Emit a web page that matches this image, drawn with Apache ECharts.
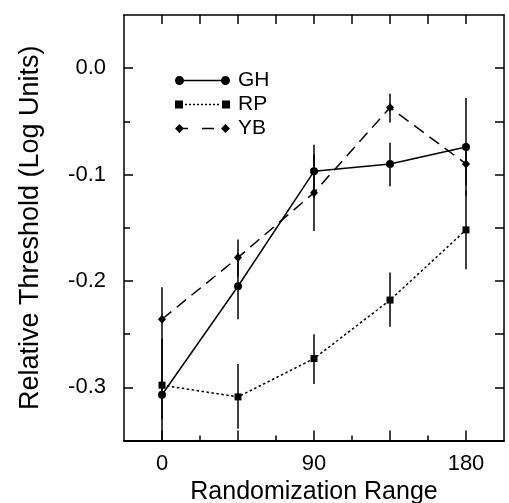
<!DOCTYPE html>
<html>
<head>
<meta charset="utf-8">
<script src="https://cdn.jsdelivr.net/npm/echarts@6/dist/echarts.min.js"></script>
<style>
    html, body { margin: 0; padding: 0; background: #fff; }
    #main { width: 509px; height: 503px; }
</style>
</head>
<body>
<div id="main"></div>
<script>
// 数据
var ranges = [0, 45, 90, 135, 180];
var ghMean = [-0.307, -0.205, -0.097, -0.090, -0.074];
var ghLow  = [-0.360, -0.236, -0.122, -0.111, -0.120];
var ghHigh = [-0.254, -0.174, -0.072, -0.070, -0.028];
var rpMean = [-0.298, -0.309, -0.273, -0.218, -0.152];
var rpLow  = [-0.330, -0.339, -0.297, -0.243, -0.189];
var rpHigh = [-0.266, -0.278, -0.250, -0.192, -0.115];
var ybMean = [-0.236, -0.178, -0.117, -0.037, -0.090];
var ybLow  = [-0.266, -0.196, -0.153, -0.051, -0.110];
var ybHigh = [-0.206, -0.161, -0.081, -0.024, -0.070];
var xLabelValues = [0, 90, 180];
var yLabelValues = [0, -0.1, -0.2, -0.3];

var font = 'Liberation Sans';
var chart = echarts.init(document.getElementById('main'));

function pairs(xs, ys) {
    var out = [];
    for (var i = 0; i < xs.length; i++) out.push([xs[i], ys[i]]);
    return out;
}
function bars(xs, lo, hi) {
    var out = [];
    for (var i = 0; i < xs.length; i++) out.push([xs[i], lo[i], hi[i]]);
    return out;
}

// legend icons (both end markers + line pattern)
function circ(cx, cy, r) {
    return 'M' + (cx - r) + ',' + cy + ' A' + r + ',' + r + ' 0 1,1 ' + (cx + r) + ',' + cy +
        ' A' + r + ',' + r + ' 0 1,1 ' + (cx - r) + ',' + cy + ' Z ';
}
function seg(x1, x2, cy, h) {
    return 'M' + x1 + ',' + (cy - h / 2) + ' L' + x2 + ',' + (cy - h / 2) + ' L' + x2 + ',' + (cy + h / 2) + ' L' + x1 + ',' + (cy + h / 2) + ' Z ';
}
function diam(cx, cy, w, h) {
    return 'M' + (cx - w / 2) + ',' + cy + ' L' + cx + ',' + (cy - h / 2) + ' L' + (cx + w / 2) + ',' + cy + ' L' + cx + ',' + (cy + h / 2) + ' Z ';
}
var iconGH = 'path://' + circ(4.5, 4.5, 4.5) + seg(4, 51, 4.5, 1.4) + circ(50.5, 4.5, 4.5);
var rpPath = seg(0, 8, 4.5, 8) + seg(47, 55, 4.5, 8);
for (var dx = 10; dx < 46; dx += 4) rpPath += seg(dx, dx + 2, 4.5, 1.4);
var iconRP = 'path://' + rpPath;
var iconYB = 'path://' + diam(4.5, 4.5, 9, 9) + seg(8, 13, 4.5, 1.4) + seg(27, 39, 4.5, 1.4) + seg(47, 51, 4.5, 1.4) + diam(50.5, 4.5, 9, 9);

function errRender(params, api) {
    var cs = params.coordSys;
    var p1 = api.coord([api.value(0), api.value(1)]);
    var p2 = api.coord([api.value(0), api.value(2)]);
    var yTop = cs.y, yBot = cs.y + cs.height;
    var y1 = Math.min(Math.max(p1[1], yTop), yBot);
    var y2 = Math.min(Math.max(p2[1], yTop), yBot);
    return {
        type: 'line',
        shape: { x1: p1[0], y1: y1, x2: p2[0], y2: y2 },
        style: { stroke: '#000', lineWidth: 1.5 }
    };
}

var axisLine = { show: true, onZero: false, lineStyle: { color: '#000', width: 1.5 } };
var noLine = { show: false, onZero: false };

var option = {
    animation: false,
    backgroundColor: '#fff',
    textStyle: { fontFamily: font, color: '#000' },
    grid: { left: 124, right: 5, top: 15, bottom: 62.5, containLabel: false, outerBoundsMode: 'none' },
    legend: {
        orient: 'vertical',
        left: 175,
        top: 70,
        padding: 0,
        itemWidth: 55,
        itemHeight: 9,
        itemGap: 3,
        selectedMode: false,
        textStyle: { fontFamily: font, fontSize: 21, color: '#000', padding: [0, 0, 0, 3] },
        data: [
            { name: 'GH', icon: iconGH },
            { name: 'RP', icon: iconRP },
            { name: 'YB', icon: iconYB }
        ]
    },
    xAxis: [
        {
            type: 'value', position: 'bottom',
            min: -22.5, max: 202.5, interval: 22.5,
            axisLine: { show: true, onZero: false, lineStyle: { color: '#000', width: 2 } },
            axisTick: { show: true, inside: true, length: 10, customValues: [0, 45, 90, 135, 180], lineStyle: { color: '#000', width: 1.5 } },
            axisLabel: { customValues: xLabelValues, fontSize: 22, margin: 12, color: '#000', fontFamily: font },
            splitLine: { show: false },
            name: 'Randomization Range',
            nameLocation: 'middle',
            nameGap: 34,
            nameTextStyle: { fontSize: 25, color: '#000', fontFamily: font }
        },
        {
            type: 'value', position: 'bottom',
            min: -22.5, max: 202.5, interval: 22.5,
            axisLine: noLine,
            axisTick: { show: true, inside: true, length: 5, customValues: [22.5, 67.5, 112.5, 157.5], lineStyle: { color: '#000', width: 1.5 } },
            axisLabel: { show: false },
            splitLine: { show: false }
        },
        {
            type: 'value', position: 'top',
            min: -22.5, max: 202.5, interval: 22.5,
            axisLine: axisLine,
            axisTick: { show: true, inside: true, length: 9, customValues: [0, 22.5, 45, 67.5, 90, 112.5, 135, 157.5, 180], lineStyle: { color: '#000', width: 1.5 } },
            axisLabel: { show: false },
            splitLine: { show: false }
        }
    ],
    yAxis: [
        {
            type: 'value', position: 'left',
            min: -0.35, max: 0.05, interval: 0.05,
            axisLine: axisLine,
            axisTick: { show: true, inside: true, length: 9, customValues: yLabelValues, lineStyle: { color: '#000', width: 1.5 } },
            axisLabel: {
                customValues: yLabelValues, fontSize: 22, margin: 18, color: '#000', fontFamily: font,
                formatter: function (v) { return v.toFixed(1); }
            },
            splitLine: { show: false },
            name: 'Relative Threshold (Log Units)',
            nameLocation: 'middle',
            nameGap: 80,
            nameTextStyle: { fontSize: 27, color: '#000', fontFamily: font }
        },
        {
            type: 'value', position: 'left',
            min: -0.35, max: 0.05, interval: 0.05,
            axisLine: noLine,
            axisTick: { show: true, inside: true, length: 6, customValues: [-0.05, -0.15, -0.25], lineStyle: { color: '#000', width: 1.5 } },
            axisLabel: { show: false },
            splitLine: { show: false }
        },
        {
            type: 'value', position: 'right',
            min: -0.35, max: 0.05, interval: 0.05,
            axisLine: axisLine,
            axisTick: { show: true, inside: true, length: 9, customValues: [0, -0.05, -0.1, -0.15, -0.2, -0.25, -0.3], lineStyle: { color: '#000', width: 1.5 } },
            axisLabel: { show: false },
            splitLine: { show: false }
        }
    ],
    series: [
        {
            type: 'custom', name: 'GH err', renderItem: errRender,
            data: bars(ranges, ghLow, ghHigh), encode: { x: 0, y: [1, 2] }, z: 1
        },
        {
            type: 'custom', name: 'RP err', renderItem: errRender,
            data: bars(ranges, rpLow, rpHigh), encode: { x: 0, y: [1, 2] }, z: 1
        },
        {
            type: 'custom', name: 'YB err', renderItem: errRender,
            data: bars(ranges, ybLow, ybHigh), encode: { x: 0, y: [1, 2] }, z: 1
        },
        {
            name: 'GH', type: 'line', data: pairs(ranges, ghMean),
            symbol: 'circle', symbolSize: 8,
            itemStyle: { color: '#000' },
            lineStyle: { color: '#000', width: 1.5, type: 'solid' }, z: 3
        },
        {
            name: 'RP', type: 'line', data: pairs(ranges, rpMean),
            symbol: 'rect', symbolSize: 7,
            itemStyle: { color: '#000' },
            lineStyle: { color: '#000', width: 1.5, type: [2.5, 2.5] }, z: 3
        },
        {
            name: 'YB', type: 'line', data: pairs(ranges, ybMean),
            symbol: 'diamond', symbolSize: [8, 9],
            itemStyle: { color: '#000' },
            lineStyle: { color: '#000', width: 1.5, type: [12, 7] }, z: 3
        }
    ]
};
chart.setOption(option);
</script>
</body>
</html>
